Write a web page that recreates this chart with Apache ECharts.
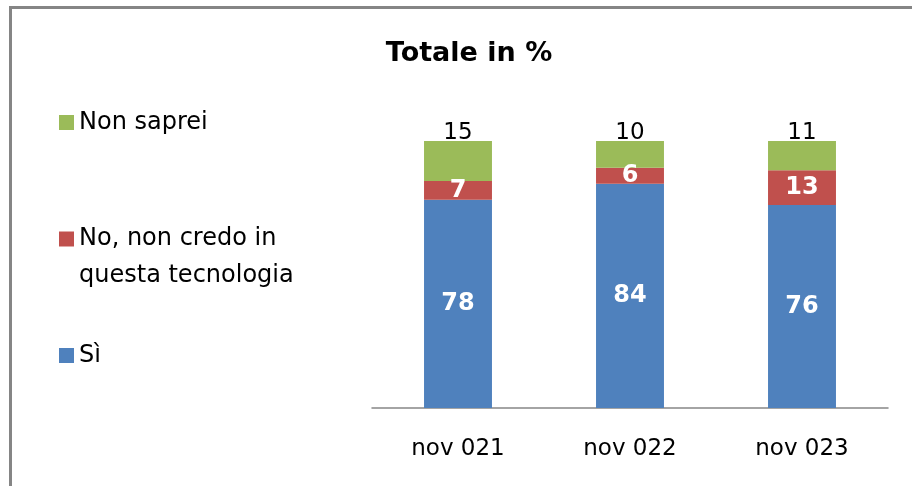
<!DOCTYPE html>
<html>
<head>
<meta charset="utf-8">
<script src="https://cdn.jsdelivr.net/npm/echarts@6/dist/echarts.min.js"></script>
<style>
  html, body { margin: 0; padding: 0; background: #fff; }
  #container { width: 912px; height: 486px; }
</style>
</head>
<body>
<div id="container"></div>
<script>
var categories = ["nov 021", "nov 022", "nov 023"];
var siValues = [78, 84, 76];
var noValues = [7, 6, 13];
var nonSapreiValues = [15, 10, 11];

var FONT = "DejaVu Sans";

var chartDom = document.getElementById("container");
var myChart = echarts.init(chartDom);
var option;

option = {
  animation: false,
  textStyle: { fontFamily: FONT },
  title: {
    text: "Totale in %",
    left: 464,
    textAlign: "center",
    top: 35,
    textStyle: { fontSize: 27, fontWeight: "bold", color: "#000", fontFamily: FONT }
  },
  graphic: [
    // chart frame (left and top edges only visible)
    { type: "line", shape: { x1: 10.5, y1: 7, x2: 10.5, y2: 486 }, style: { stroke: "#858585", lineWidth: 3 } },
    { type: "line", shape: { x1: 9, y1: 7.5, x2: 912, y2: 7.5 }, style: { stroke: "#858585", lineWidth: 3 } }
  ],
  legend: {
    orient: "vertical",
    left: 54,
    top: 99,
    itemWidth: 15,
    itemHeight: 15,
    itemGap: 49,
    icon: "rect",
    data: ["Non saprei", "No, non credo in questa tecnologia", "Sì"],
    formatter: function(name) {
      if (name === "No, non credo in questa tecnologia") {
        return "{two|No, non credo in\nquesta tecnologia}";
      }
      return name;
    },
    textStyle: {
      fontSize: 24,
      color: "#000",
      lineHeight: 37,
      fontFamily: FONT,
      rich: {
        two: { fontSize: 24, lineHeight: 37, padding: [37, 0, 0, 0], color: "#000", fontFamily: FONT }
      }
    }
  },
  grid: {
    left: 372,
    right: 24,
    top: 141,
    bottom: 78
  },
  xAxis: {
    type: "category",
    data: categories,
    axisLine: { lineStyle: { color: "#868686", width: 1.5 } },
    axisTick: { show: false },
    axisLabel: { fontSize: 23, color: "#000", margin: 30, fontFamily: FONT }
  },
  yAxis: {
    type: "value",
    min: 0,
    max: 100,
    show: false,
    splitLine: { show: false }
  },
  series: [
    {
      name: "Sì",
      type: "bar",
      stack: "tot",
      data: siValues,
      barWidth: "39.5%",
      itemStyle: { color: "#4F81BD" },
      label: {
        show: true,
        position: "inside",
        color: "#fff",
        fontSize: 24,
        fontWeight: "bold",
        fontFamily: FONT
      }
    },
    {
      name: "No, non credo in questa tecnologia",
      type: "bar",
      stack: "tot",
      data: noValues,
      itemStyle: { color: "#C0504D" },
      label: {
        show: true,
        position: "inside",
        color: "#fff",
        fontSize: 24,
        fontWeight: "bold",
        fontFamily: FONT
      }
    },
    {
      name: "Non saprei",
      type: "bar",
      stack: "tot",
      data: nonSapreiValues,
      itemStyle: { color: "#9BBB59" },
      label: {
        show: true,
        position: "top",
        distance: -4,
        color: "#000",
        fontSize: 23,
        fontFamily: FONT
      }
    }
  ]
};
option && myChart.setOption(option);
</script>
</body>
</html>
